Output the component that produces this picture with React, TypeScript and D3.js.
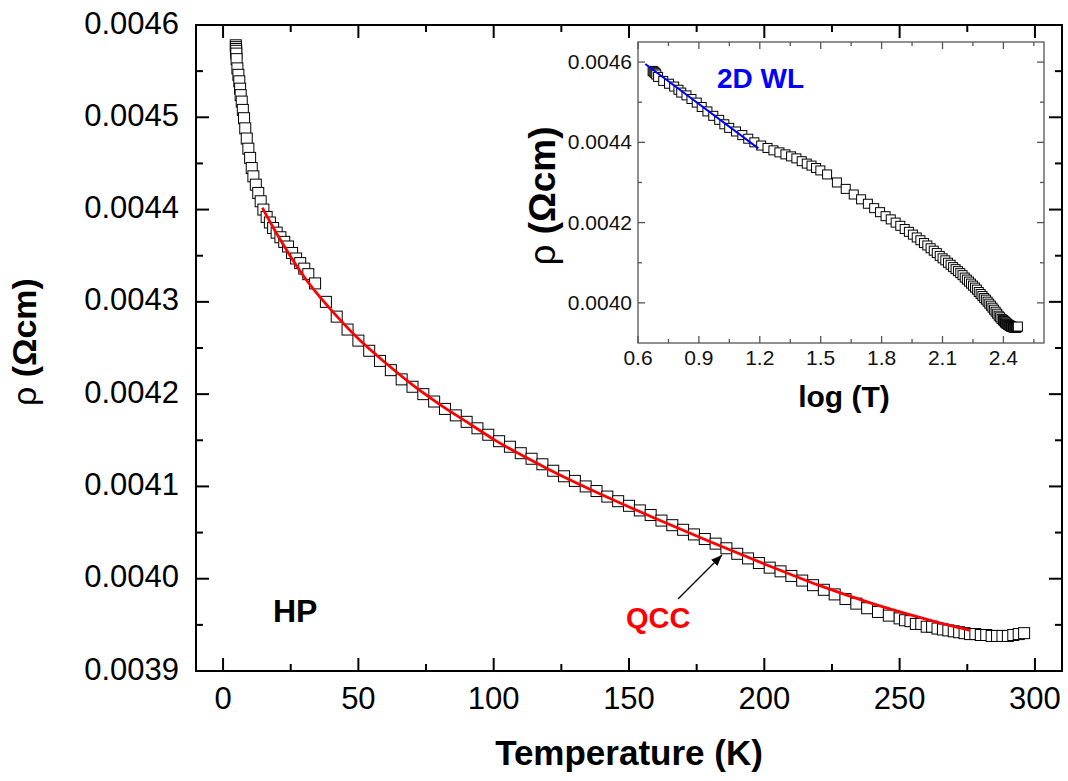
import * as d3 from 'd3';

// resistivity vs temperature: [T (K), rho (Ohm cm)]
const RHO_VS_T: [number, number][] = [
  [4.7, 0.004578], [4.75, 0.004576], [4.8, 0.004574], [4.85, 0.004572], [4.9, 0.004569],
  [5.0, 0.004563], [5.3, 0.004553], [5.66, 0.004546], [6.0, 0.004539], [6.3, 0.004531],
  [6.5, 0.004524], [6.9, 0.004517], [7.3, 0.004508], [7.75, 0.004499], [8.2, 0.004488],
  [8.75, 0.004477], [9.35, 0.004466], [10.0, 0.004456], [10.6, 0.004445], [11.2, 0.004436],
  [12.1, 0.004427], [13.0, 0.004418], [13.9, 0.004409], [14.9, 0.0044], [16.1, 0.004392],
  [17.3, 0.004386], [18.5, 0.00438], [19.8, 0.004375], [21.2, 0.00437], [22.6, 0.004365],
  [24.0, 0.00436], [25.5, 0.004353], [27.0, 0.004347], [28.5, 0.004342], [30.0, 0.004336],
  [31.5, 0.00433], [34, 0.00432], [38, 0.0043], [42, 0.004284], [46, 0.00427],
  [50, 0.004258], [54, 0.004247], [58, 0.004236], [62, 0.004226], [66, 0.004216],
  [70, 0.004208], [74, 0.0042], [78, 0.004192], [82, 0.004184], [86, 0.004177],
  [90, 0.00417], [94, 0.004163], [98, 0.004156], [102, 0.004149], [106, 0.004143],
  [110, 0.004136], [114, 0.00413], [118, 0.004124], [122, 0.004117], [126, 0.004111],
  [130, 0.004106], [134, 0.0041], [138, 0.004095], [142, 0.004089], [146, 0.004084],
  [150, 0.004079], [154, 0.004074], [158, 0.004069], [162, 0.004063], [166, 0.004058],
  [170, 0.004053], [174, 0.004048], [178, 0.004043], [182, 0.004038], [186, 0.004033],
  [190, 0.004027], [194, 0.004022], [198, 0.004017], [202, 0.004012], [206, 0.004008],
  [210, 0.004003], [214, 0.003998], [218, 0.003993], [222, 0.003988], [226, 0.003983],
  [230, 0.003978], [234, 0.003973], [238, 0.003968], [242, 0.003964], [246, 0.00396],
  [250, 0.003957], [252, 0.003955], [254, 0.003954], [256, 0.003951], [258, 0.003951],
  [260, 0.003948], [262, 0.003948], [264, 0.003946], [266, 0.003945], [268, 0.003944],
  [270, 0.003943], [272, 0.003942], [274, 0.003941], [276, 0.00394], [278, 0.00394],
  [280, 0.003939], [282, 0.003939], [284, 0.003938], [286, 0.003938], [288, 0.003938],
  [290, 0.003938], [292, 0.003939], [294, 0.00394], [296, 0.003941],
];

// QCC fit (red curve)
const QCC_FIT: [number, number][] = [
  [14.5, 0.004402], [20, 0.004373], [25, 0.004349], [30, 0.004327], [35, 0.004308],
  [40, 0.004291], [50, 0.00426], [60, 0.004234], [70, 0.00421], [80, 0.004189],
  [90, 0.00417], [100, 0.004151], [120, 0.004119], [140, 0.004091], [160, 0.004065],
  [180, 0.00404], [200, 0.004016], [220, 0.003993], [240, 0.003973], [260, 0.003956],
  [276, 0.003944],
];

// 2D weak localisation line in inset: [log T, rho]
const WL_FIT: [number, number][] = [[0.636, 0.004595], [1.193, 0.004385]];

const X_TICKS = [0, 50, 100, 150, 200, 250, 300];
const X_MINOR = [25, 75, 125, 175, 225, 275];
const Y_TICKS = [0.0039, 0.004, 0.0041, 0.0042, 0.0043, 0.0044, 0.0045, 0.0046];
const Y_MINOR = [0.00395, 0.00405, 0.00415, 0.00425, 0.00435, 0.00445, 0.00455];

const IX_TICKS = [0.6, 0.9, 1.2, 1.5, 1.8, 2.1, 2.4];
const IX_MINOR = [0.75, 1.05, 1.35, 1.65, 1.95, 2.25, 2.55];
const IY_TICKS = [0.004, 0.0042, 0.0044, 0.0046];
const IY_MINOR = [0.0041, 0.0043, 0.0045];

const FONT = "'Liberation Sans', Arial, sans-serif";

export default function App() {
  const x = d3.scaleLinear().domain([-10, 310]).range([196, 1062]);
  const y = d3.scaleLinear().domain([0.0039, 0.0046]).range([671, 25]);
  const [x0, x1] = x.range();
  const [y0, y1] = y.range();

  const ix = d3.scaleLinear().domain([0.6, 2.6]).range([638, 1044]);
  const iy = d3.scaleLinear().domain([0.0039, 0.00465]).range([343, 42]);
  const [ix0, ix1] = ix.range();
  const [iy0, iy1] = iy.range();

  const fitLine = d3.line<[number, number]>().x(d => x(d[0])).y(d => y(d[1])).curve(d3.curveMonotoneX);
  const wlLine = d3.line<[number, number]>().x(d => ix(d[0])).y(d => iy(d[1]));

  const ms = 11, ims = 9;

  return (
    <div style={{ position: 'fixed', left: 0, top: 0 }}>
      <svg width={1068} height={781} style={{ display: 'block', background: '#fff' }} fontFamily={FONT}>
        {/* main data */}
        <g fill="#fff" stroke="#000" strokeWidth={1}>
          {RHO_VS_T.map((d, i) => (
            <rect key={i} x={x(d[0]) - ms / 2} y={y(d[1]) - ms / 2} width={ms} height={ms} />
          ))}
        </g>
        <path d={fitLine(QCC_FIT) || ''} fill="none" stroke="#ff0000" strokeWidth={2.8} />

        {/* main frame & ticks */}
        <g stroke="#000" strokeWidth={2}>
          {X_TICKS.map(t => (
            <g key={t}>
              <line x1={x(t)} x2={x(t)} y1={y0} y2={y0 - 13} />
              <line x1={x(t)} x2={x(t)} y1={y1} y2={y1 + 13} />
            </g>
          ))}
          {X_MINOR.map(t => (
            <g key={t}>
              <line x1={x(t)} x2={x(t)} y1={y0} y2={y0 - 7} />
              <line x1={x(t)} x2={x(t)} y1={y1} y2={y1 + 7} />
            </g>
          ))}
          {Y_TICKS.map(t => (
            <g key={t}>
              <line x1={x0} x2={x0 + 13} y1={y(t)} y2={y(t)} />
              <line x1={x1} x2={x1 - 13} y1={y(t)} y2={y(t)} />
            </g>
          ))}
          {Y_MINOR.map(t => (
            <g key={t}>
              <line x1={x0} x2={x0 + 7} y1={y(t)} y2={y(t)} />
              <line x1={x1} x2={x1 - 7} y1={y(t)} y2={y(t)} />
            </g>
          ))}
          <rect x={x0} y={y1} width={x1 - x0} height={y0 - y1} fill="none" />
        </g>
        <g fontSize={31} fill="#000">
          {X_TICKS.map(t => (
            <text key={t} x={x(t)} y={709} textAnchor="middle">{t}</text>
          ))}
          {Y_TICKS.map(t => (
            <text key={t} x={179} y={y(t) + 8.5} textAnchor="end">{t.toFixed(4)}</text>
          ))}
        </g>
        <text x={629} y={765} fontSize={35} fontWeight="bold" textAnchor="middle">Temperature (K)</text>
        <text transform="translate(36,342) rotate(-90)" fontSize={34} textAnchor="middle">
          <tspan>ρ </tspan><tspan fontWeight="bold">(Ωcm)</tspan>
        </text>
        <text x={273} y={622} fontSize={32} fontWeight="bold">HP</text>
        <text x={626} y={628} fontSize={29} fontWeight="bold" fill="#ff0000">QCC</text>
        <defs>
          <marker id="ah" viewBox="0 0 10 10" refX={10} refY={5} markerWidth={11} markerHeight={11} markerUnits="userSpaceOnUse" orient="auto">
            <path d="M0,1 L10,5 L0,9 Z" fill="#000" />
          </marker>
        </defs>
        <line x1={678} y1={599} x2={722} y2={555} stroke="#000" strokeWidth={1.3} markerEnd="url(#ah)" />

        {/* inset */}
        <rect x={ix0} y={iy1} width={ix1 - ix0} height={iy0 - iy1} fill="#fff" />
        <g fill="#fff" stroke="#000" strokeWidth={1}>
          {RHO_VS_T.map((d, i) => (
            <rect key={i} x={ix(Math.log10(d[0])) - ims / 2} y={iy(d[1]) - ims / 2} width={ims} height={ims} />
          ))}
        </g>
        <path d={wlLine(WL_FIT) || ''} fill="none" stroke="#0000ff" strokeWidth={2} />
        <g stroke="#555" strokeWidth={1.3}>
          {IX_TICKS.map(t => (
            <g key={t}>
              <line x1={ix(t)} x2={ix(t)} y1={iy0} y2={iy0 - 7} />
              <line x1={ix(t)} x2={ix(t)} y1={iy1} y2={iy1 + 7} />
            </g>
          ))}
          {IX_MINOR.map(t => (
            <g key={t}>
              <line x1={ix(t)} x2={ix(t)} y1={iy0} y2={iy0 - 4} />
              <line x1={ix(t)} x2={ix(t)} y1={iy1} y2={iy1 + 4} />
            </g>
          ))}
          {IY_TICKS.map(t => (
            <g key={t}>
              <line x1={ix0} x2={ix0 + 7} y1={iy(t)} y2={iy(t)} />
              <line x1={ix1} x2={ix1 - 7} y1={iy(t)} y2={iy(t)} />
            </g>
          ))}
          {IY_MINOR.map(t => (
            <g key={t}>
              <line x1={ix0} x2={ix0 + 4} y1={iy(t)} y2={iy(t)} />
              <line x1={ix1} x2={ix1 - 4} y1={iy(t)} y2={iy(t)} />
            </g>
          ))}
          <rect x={ix0} y={iy1} width={ix1 - ix0} height={iy0 - iy1} fill="none" />
        </g>
        <g fontSize={21} fill="#111">
          {IX_TICKS.map(t => (
            <text key={t} x={ix(t)} y={365} textAnchor="middle">{t.toFixed(1)}</text>
          ))}
          {IY_TICKS.map(t => (
            <text key={t} x={632} y={iy(t) + 7} textAnchor="end">{t.toFixed(4)}</text>
          ))}
        </g>
        <text x={844} y={407} fontSize={30} fontWeight="bold" textAnchor="middle">log (T)</text>
        <text transform="translate(555,196) rotate(-90)" fontSize={37} textAnchor="middle">
          <tspan>ρ </tspan><tspan fontWeight="bold">(Ωcm)</tspan>
        </text>
        <text x={717} y={88} fontSize={28} fontWeight="bold" fill="#0000ff">2D WL</text>
      </svg>
    </div>
  );
}
